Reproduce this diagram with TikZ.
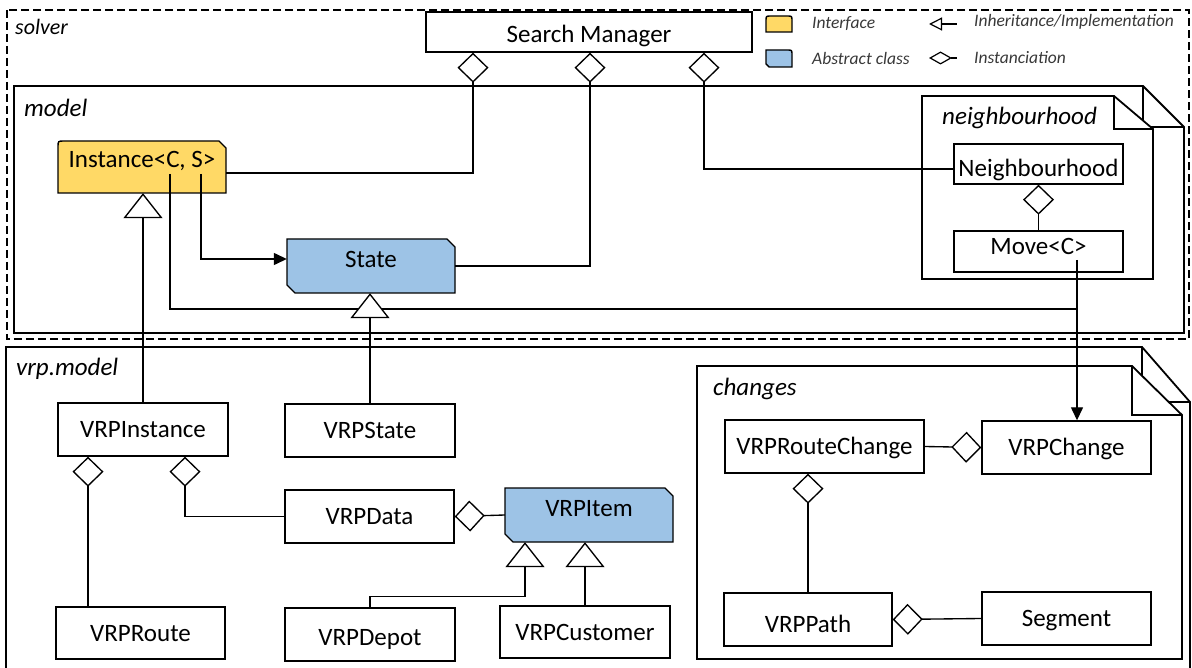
\documentclass[tikz,border=0pt]{standalone}
\usepackage{fontspec}
\setmainfont{Carlito}
\usetikzlibrary{arrows.meta,calc}
\definecolor{ifyellow}{HTML}{FFD966}
\definecolor{abblue}{HTML}{9DC3E6}

\begin{document}
\begin{tikzpicture}[x=1pt,y=-1pt,line join=miter,
  cls/.style={draw, line width=1.4pt, fill=white, inner sep=0pt,
    font=\fontsize{25}{30}\selectfont, text height=16pt, text depth=0pt},
  txt/.style={inner sep=0pt, font=\fontsize{25}{30}\selectfont, text height=16pt, text depth=0pt},
  pkg/.style={draw, line width=1.8pt, fill=white},
  fold/.style={draw, line width=1.8pt},
  pkglabel/.style={anchor=west, inner sep=0pt, font=\fontsize{25}{30}\selectfont\itshape},
  shapeline/.style={draw, line width=1.4pt},
  link/.style={draw, line width=1.35pt},
  agg/.style={link, {Diamond[fill=white,length=30pt,width=31pt]}-},
  inh/.style={link, -{Triangle[fill=white,length=25pt,width=39pt]}},
  dep/.style={link, -{Triangle[length=13pt,width=12pt]}},
  legend/.style={anchor=west, inner sep=0pt, font=\fontsize{17.5}{20}\selectfont\itshape, text=black!78}
]
\useasboundingbox (0,0) rectangle (1192,668);

% ---------------- packages ----------------
% solver (dashed)
\draw[line width=2.4pt, dash pattern=on 8pt off 4pt] (7,10) rectangle (1189,339);
\node[pkglabel, font=\fontsize{22}{26}\selectfont\itshape] (solverlbl) at (15,27) {solver};

% model
\path[pkg] (14,86) -- (1143,86) -- (1184,127) -- (1184,333) -- (14,333) -- cycle;
\path[fold] (1143,86) -- (1143,127) -- (1184,127);
\node[pkglabel] (modellbl) at (24,108) {model};

% neighbourhood
\path[pkg] (922,96) -- (1114,96) -- (1153,129) -- (1153,279) -- (922,279) -- cycle;
\path[fold] (1114,96) -- (1114,129) -- (1153,129);
\node[pkglabel] (nblbl) at (942,118) {neighbourhood};

% vrp.model
\path[pkg] (6,347) -- (1142,347) -- (1190,402) -- (1190,672) -- (6,672) -- cycle;
\path[fold] (1142,347) -- (1142,402) -- (1190,402);
\node[pkglabel] (vrplbl) at (16,369) {vrp.model};

% changes
\path[pkg] (697,366) -- (1132,366) -- (1182,415) -- (1182,659) -- (697,659) -- cycle;
\path[fold] (1132,366) -- (1132,415) -- (1182,415);
\node[pkglabel] (chlbl) at (713,389) {changes};

% ---------------- legend ----------------
\path[shapeline, fill=ifyellow] (766,32) -- (766,21) .. controls (766,16) .. (771,16)
  -- (787,16) .. controls (792,16) .. (792,21) -- (792,32) -- cycle;
\node[legend] (lgif) at (812,24) {Interface};
\path[shapeline, fill=abblue] (769,67) -- (766,64) -- (766,50) -- (787,50)
  .. controls (792,50) .. (792,55) -- (792,67) -- cycle;
\node[legend] (lgab) at (812,58) {Abstract class};
\coordinate (lgi1) at (929,24); \coordinate (lgi2) at (957,24);
\draw[line width=1.2pt, {Triangle[open,length=13pt,width=13pt]}-] (lgi1) -- (lgi2);
\node[legend] (lgin) at (974,22) {Inheritance/Implementation};
\coordinate (lgd1) at (929,58); \coordinate (lgd2) at (957,58);
\draw[line width=1.2pt, {Diamond[fill=white,length=23pt,width=13pt]}-] (lgd1) -- (lgd2);
\node[legend] (lgag) at (974,58) {Instanciation};

% ---------------- classes ----------------
\node[cls, minimum width=326pt, minimum height=40pt, text height=22pt] (sm) at (589,32) {Search Manager};

% Instance<C, S> (interface)
\path[shapeline, fill=ifyellow] (58,193) -- (58,147) .. controls (58,141) .. (64,141)
  -- (219,141) -- (226,148) -- (226,193) -- cycle;
\node[txt, minimum width=168pt, minimum height=52pt, text depth=14pt] (inst) at (142,167) {Instance<C, S>};

% State (abstract class)
\path[shapeline, fill=abblue] (287,239) -- (447,239) -- (455,247) -- (455,293)
  -- (295,293) -- (287,285) -- cycle;
\node[txt, minimum width=168pt, minimum height=54pt, text depth=13pt] (state) at (371,266) {State};

\node[cls, minimum width=169pt, minimum height=40pt, text height=26pt] (nb) at (1038.5,164) {Neighbourhood};
\node[cls, minimum width=169pt, minimum height=41pt, text depth=9pt] (move) at (1038.5,251.5) {Move<C>};

\node[cls, minimum width=170pt, minimum height=53pt] (vrpinst) at (143,429.5) {VRPInstance};
\node[cls, minimum width=170pt, minimum height=53pt] (vrpstate) at (370,430.5) {VRPState};
\node[cls, minimum width=169pt, minimum height=53pt] (vrpdata) at (369.5,516.5) {VRPData};

% VRPItem (abstract class)
\path[shapeline, fill=abblue] (505,488) -- (665,488) -- (673,496) -- (673,542)
  -- (513,542) -- (505,534) -- cycle;
\node[txt, minimum width=168pt, minimum height=54pt, text depth=14pt] (vrpitem) at (589,515) {VRPItem};

\node[cls, minimum width=169pt, minimum height=52pt] (vrproute) at (140.5,633) {VRPRoute};
\node[cls, minimum width=170pt, minimum height=53pt, text height=21pt] (vrpdepot) at (370,634.5) {VRPDepot};
\node[cls, minimum width=170pt, minimum height=52pt] (vrpcust) at (585,632) {VRPCustomer};

\node[cls, minimum width=199pt, minimum height=53pt] (vrprc) at (824.5,446.5) {VRPRouteChange};
\node[cls, minimum width=169pt, minimum height=53pt] (vrpch) at (1066.5,447.5) {VRPChange};
\node[cls, minimum width=168pt, minimum height=53pt, text height=26pt] (vrppath) at (808,619.5) {VRPPath};
\node[cls, minimum width=169pt, minimum height=53pt] (seg) at (1066.5,618.5) {Segment};

% ---------------- connectors ----------------
\coordinate (instC) at (170,174);
\coordinate (instS) at (201,174);
\coordinate (mvC) at (1077,260);
\coordinate (join) at (1077,309);

% type parameters used by Instance
\draw[link] (instC) |- (join);
\draw[dep] (instS) |- ([yshift=7pt]state.west);
\draw[dep] (mvC) -- (mvC |- vrpch.north);

% Search Manager holds the model parts
\draw[agg] ([xshift=-116pt]sm.south) |- ([yshift=-6pt]inst.east);
\draw[agg] ([xshift=1pt]sm.south) |- (state.east);
\draw[agg] ([xshift=115pt]sm.south) |- ([yshift=-5pt]nb.west);
\draw[agg] (nb.south) -- (move.north);

% vrp.model aggregations
\coordinate (vi1) at ([xshift=-55pt]vrpinst.south);
\coordinate (vi2) at ([xshift=42pt]vrpinst.south);
\draw[agg] (vi1) -- (vi1 |- vrproute.north);
\draw[agg] (vi2) |- (vrpdata.west);
\draw[agg] (vrpdata.east) -- (vrpitem.west);

% changes aggregations
\draw[agg] (vrpch.west) -- (vrprc.east);
\draw[agg] (vrprc.south -| vrppath.north) -- (vrppath.north);
\draw[agg] (vrppath.east) -- (seg.west);

% inheritance / implementation
\coordinate (itemL) at ([xshift=-64pt]vrpitem.south);
\draw[inh] (vrpinst.north) -- (vrpinst.north |- inst.south);
\draw[inh] (vrpstate.north) -- (vrpstate.north |- state.south);
\draw[inh] (vrpcust.north) -- (vrpcust.north |- vrpitem.south);
\draw[inh] (vrpdepot.north) -- ++(0,-11) -| (itemL);
\end{tikzpicture}
\end{document}
